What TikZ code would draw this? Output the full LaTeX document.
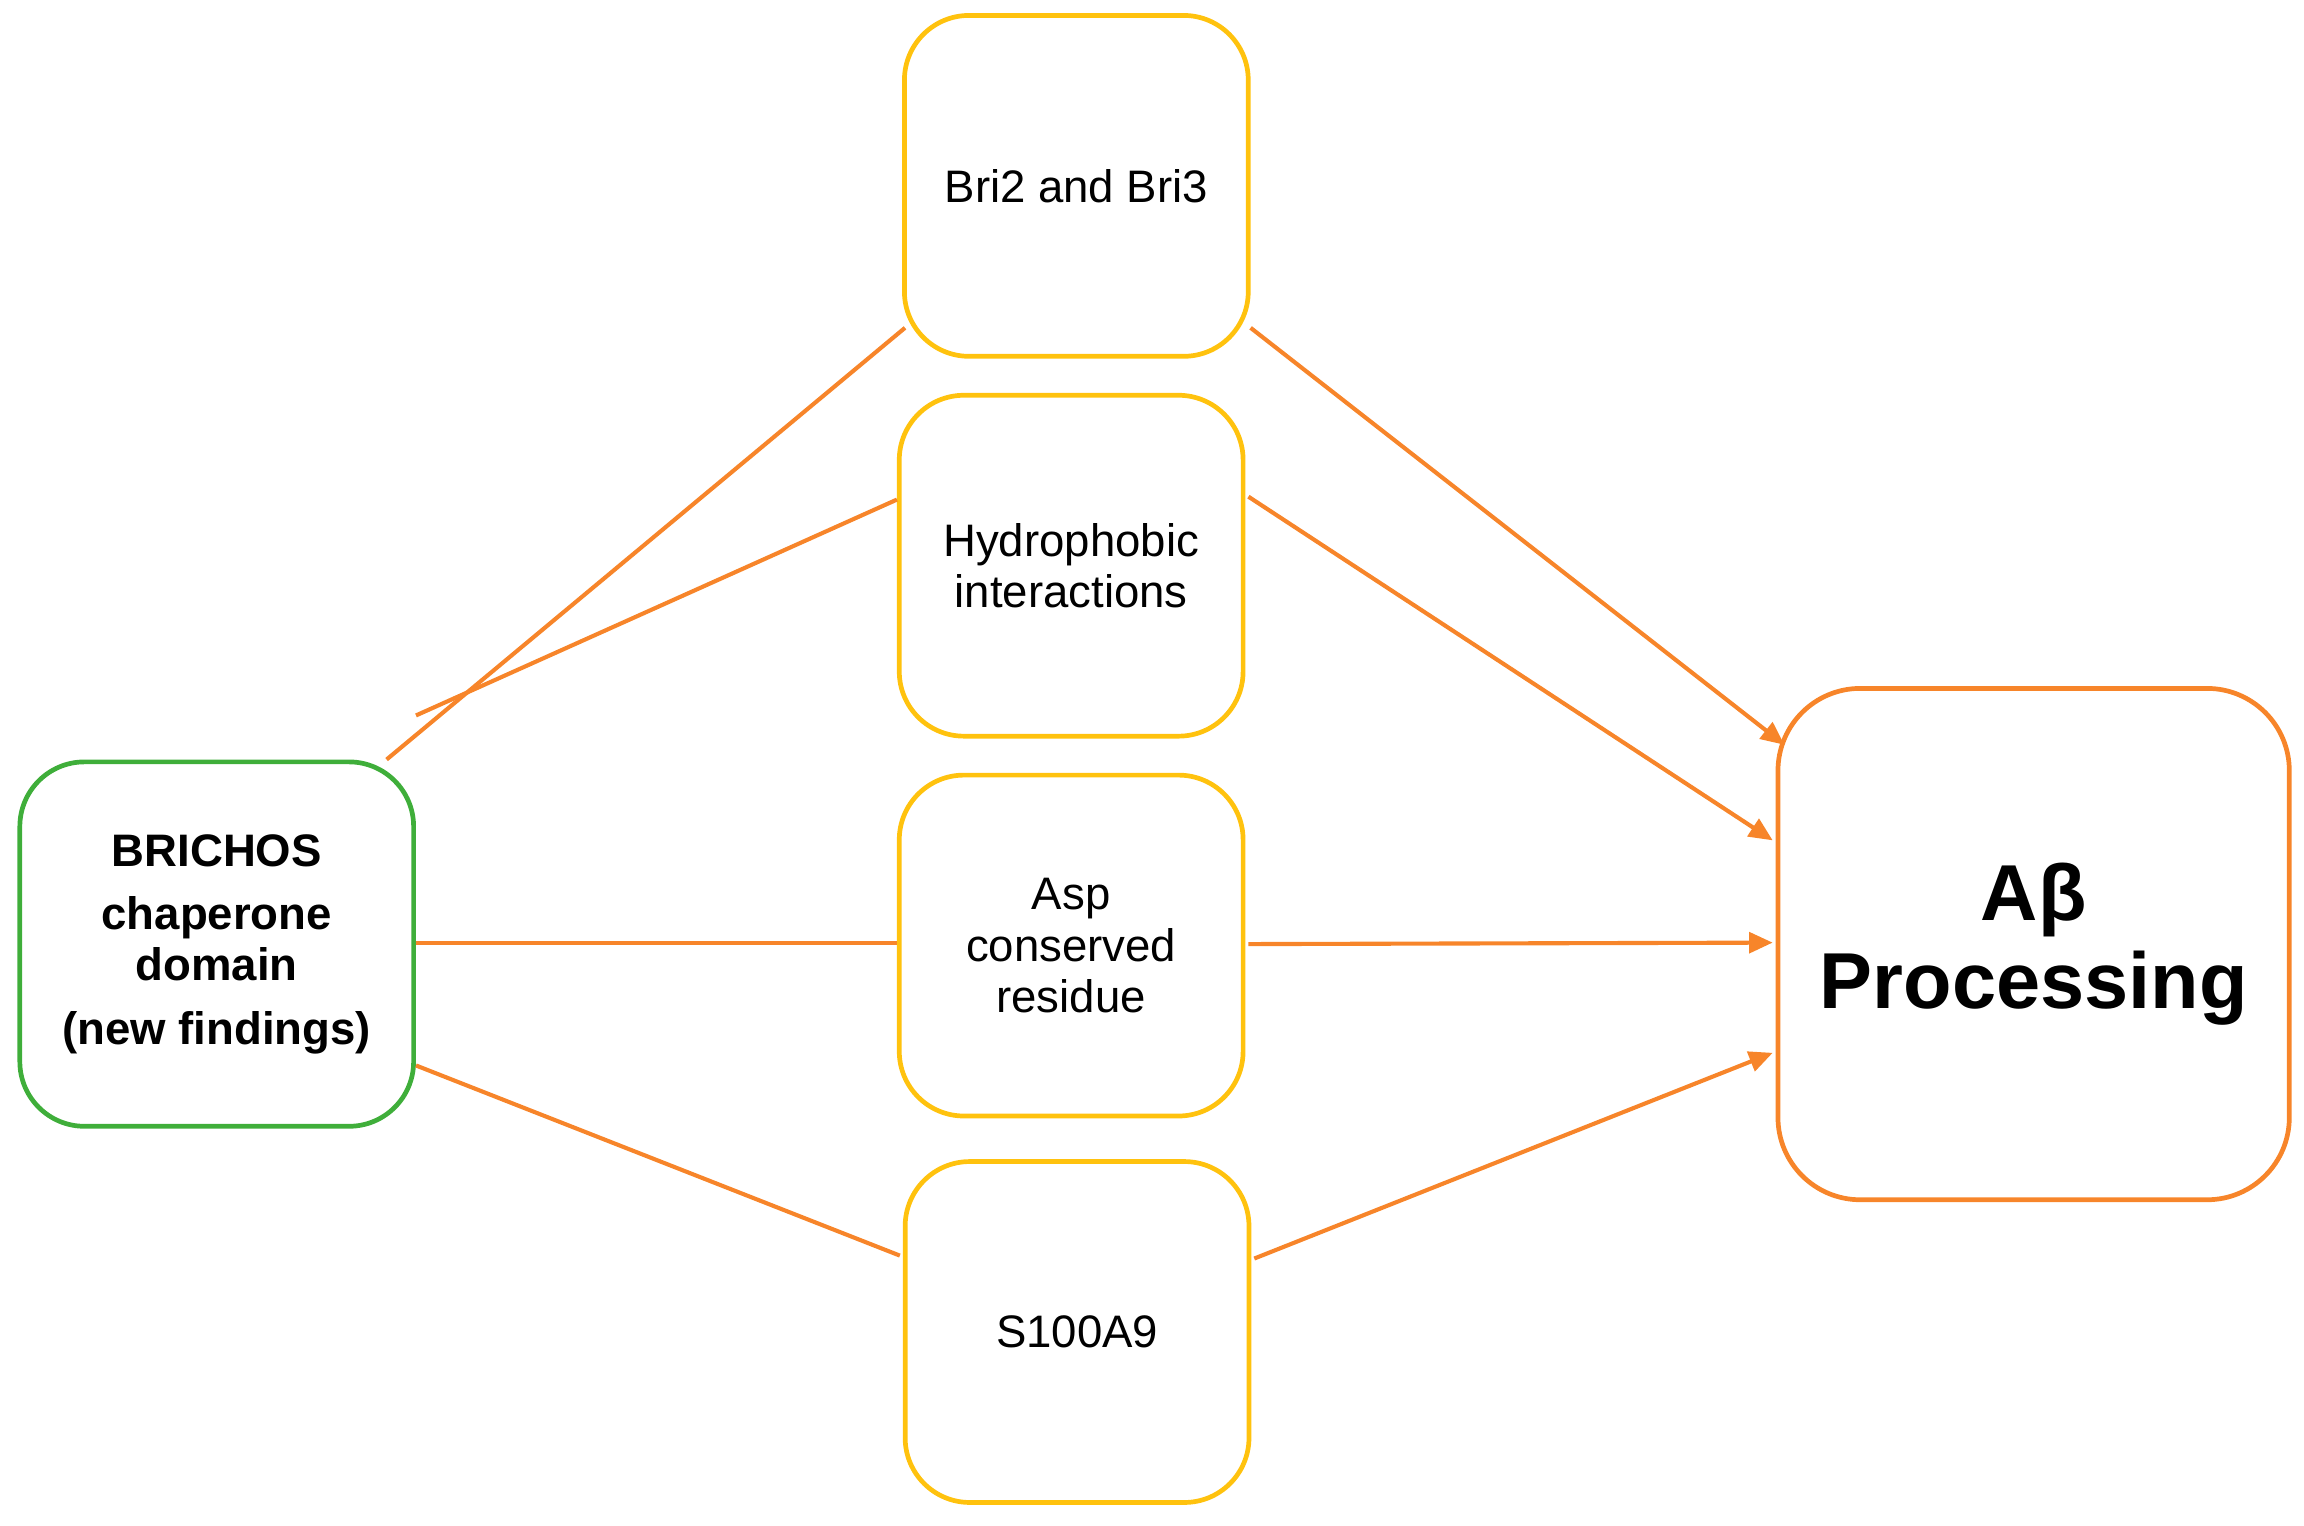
\documentclass[tikz,border=0pt]{standalone}
\usepackage{fontspec}
\setmainfont{Liberation Sans}
\usetikzlibrary{arrows.meta,calc}
\definecolor{yel}{HTML}{FFC20E}
\definecolor{org}{HTML}{F7852A}
\definecolor{grn}{HTML}{3FAE3A}
\begin{document}
\begin{tikzpicture}[x=0.5pt,y=-0.5pt,
  box/.style={draw=yel,line width=1.6pt,rounded corners=22pt,minimum width=117pt,minimum height=116pt,align=center,font=\fontsize{15.5}{17.5}\selectfont,inner sep=0pt},
  con/.style={draw=org,line width=1.4pt},
  arr/.style={con,-{Triangle[length=8pt,width=7pt]}}]
\useasboundingbox (0,0) rectangle (1568,1038);
\node[box] (bri) at (732.5,126.5) {Bri2 and Bri3};
\node[box] (hyd) at (729,385) {Hydrophobic\\interactions};
\node[box] (asp) at (729,643.5) {Asp\\conserved\\residue};
\node[box] (s100) at (733,906.5) {S100A9};
\node[draw=grn,line width=1.6pt,rounded corners=22pt,minimum width=134pt,minimum height=124pt,align=center,inner sep=0pt,font=\bfseries\fontsize{15.5}{17.5}\selectfont] (br) at (147.5,642.5) {BRICHOS\\[4pt]chaperone\\domain\\[4pt](new findings)};
\node[draw=org,line width=1.6pt,rounded corners=28pt,minimum width=174pt,minimum height=174pt,align=center,inner sep=0pt,font=\bfseries\fontsize{27}{30}\selectfont] (ab) at (1384,642.5) {Aβ\\Processing};
\draw[con] ($(br.north east)+(-20,0)$) -- ($(bri.south west)+(2,-21)$);
\draw[con] ($(br.north east)+(0,-30)$) -- ($(hyd.west)+(0,-45)$);
\draw[con] ($(br.east)+(0,-1)$) -- ($(asp.west)+(0,-2)$);
\draw[con] ($(br.south east)+(0,-43)$) -- ($(s100.west)+(-2,-52)$);
\draw[arr] ($(bri.south east)+(0,-21)$) -- ($(ab.north west)+(6,40)$);
\draw[arr] ($(hyd.east)+(2,-47)$) -- ($(ab.north west)+(-2,105)$);
\draw[arr] ($(asp.east)+(2,-1)$) -- ($(ab.west)+(-2,-1)$);
\draw[arr] ($(s100.east)+(2,-50)$) -- ($(ab.west)+(-2,74)$);
\end{tikzpicture}
\end{document}
